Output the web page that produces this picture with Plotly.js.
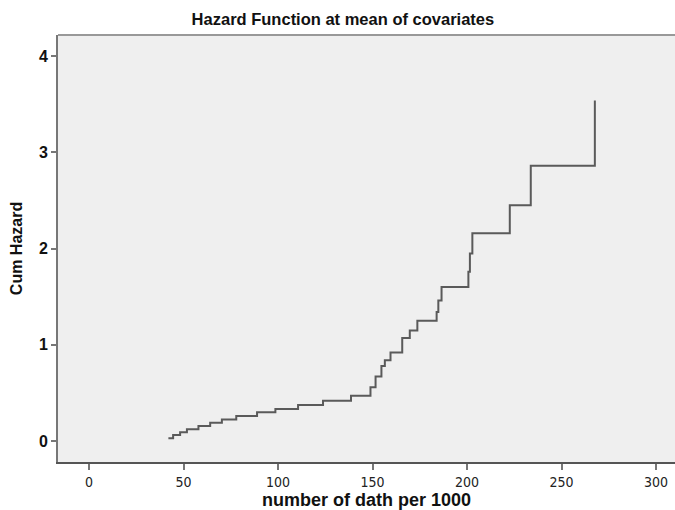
<!DOCTYPE html>
<html>
<head>
<meta charset="utf-8">
<script src="https://cdn.plot.ly/plotly-3.0.1.min.js"></script>
<style>html,body{margin:0;padding:0;background:#fff;}#chart{width:675px;height:510px;}</style>
</head>
<body>
<div id="chart"></div>
<script>
// Event times (number of deaths per 1000) and cumulative hazard at those times
const deaths = [42.0, 44.5, 48.2, 51.8, 57.9, 64.1, 70.3, 77.9, 88.9, 98.6, 110.6, 123.8, 138.6, 148.9, 151.6, 154.7, 156.5, 159.5, 165.7, 169.7, 173.7, 183.9, 184.8, 186.5, 200.7, 201.5, 202.8, 222.6, 233.7, 267.6];
const cumHazard = [0.028, 0.062, 0.090, 0.122, 0.156, 0.190, 0.225, 0.260, 0.298, 0.332, 0.374, 0.419, 0.471, 0.56, 0.67, 0.78, 0.84, 0.92, 1.07, 1.15, 1.25, 1.34, 1.46, 1.60, 1.76, 1.95, 2.16, 2.45, 2.86, 3.54];
const xTicks = [0, 50, 100, 150, 200, 250, 300];
const yTicks = [0, 1, 2, 3, 4];

const trace = {
  x: deaths, y: cumHazard, type: 'scatter', mode: 'lines',
  line: {shape: 'hv', color: '#5a5a5a', width: 2},
  hoverinfo: 'x+y'
};

const layout = {
  width: 675, height: 510,
  margin: {l: 58, r: 0, t: 35, b: 48},
  paper_bgcolor: '#ffffff',
  plot_bgcolor: '#efefef',
  showlegend: false,
  font: {family: 'Liberation Sans, Arial, sans-serif', color: '#111'},
  title: {text: '<b>Hazard Function at mean of covariates</b>', x: 0.508, xanchor: 'center', y: 0.962, yanchor: 'middle',
          font: {size: 16.5, family: 'Liberation Sans, Arial, sans-serif', color: '#111'}},
  xaxis: {
    range: [-16.4, 310], tickvals: xTicks, ticktext: xTicks.map(String),
    showgrid: false, zeroline: false, showline: true, linecolor: '#555', linewidth: 2,
    ticks: 'outside', ticklen: 6, tickwidth: 2, tickcolor: '#777',
    tickfont: {size: 14, family: 'DejaVu Sans Condensed, Liberation Sans Narrow, Liberation Sans, sans-serif', color: '#222'},
    title: {text: '<b>number of dath per 1000</b>', standoff: 6, font: {size: 18, color: '#111'}},
    mirror: false
  },
  yaxis: {
    range: [-0.218, 4.22], tickvals: yTicks, ticktext: yTicks.map(v => '<b>' + v + '</b>'),
    showgrid: false, zeroline: false, showline: true, linecolor: '#777', linewidth: 2,
    ticks: 'outside', ticklen: 5, tickwidth: 2, tickcolor: '#777',
    tickfont: {size: 16, color: '#111'},
    title: {text: '<b>Cum Hazard</b>', standoff: 12, font: {size: 16, color: '#111'}}
  },
  shapes: [
    {type: 'line', xref: 'paper', yref: 'paper', x0: 0, x1: 1, y0: 1, y1: 1, line: {color: '#999', width: 2}}
  ]
};

Plotly.newPlot('chart', [trace], layout, {displayModeBar: false, staticPlot: true});
</script>
</body>
</html>
